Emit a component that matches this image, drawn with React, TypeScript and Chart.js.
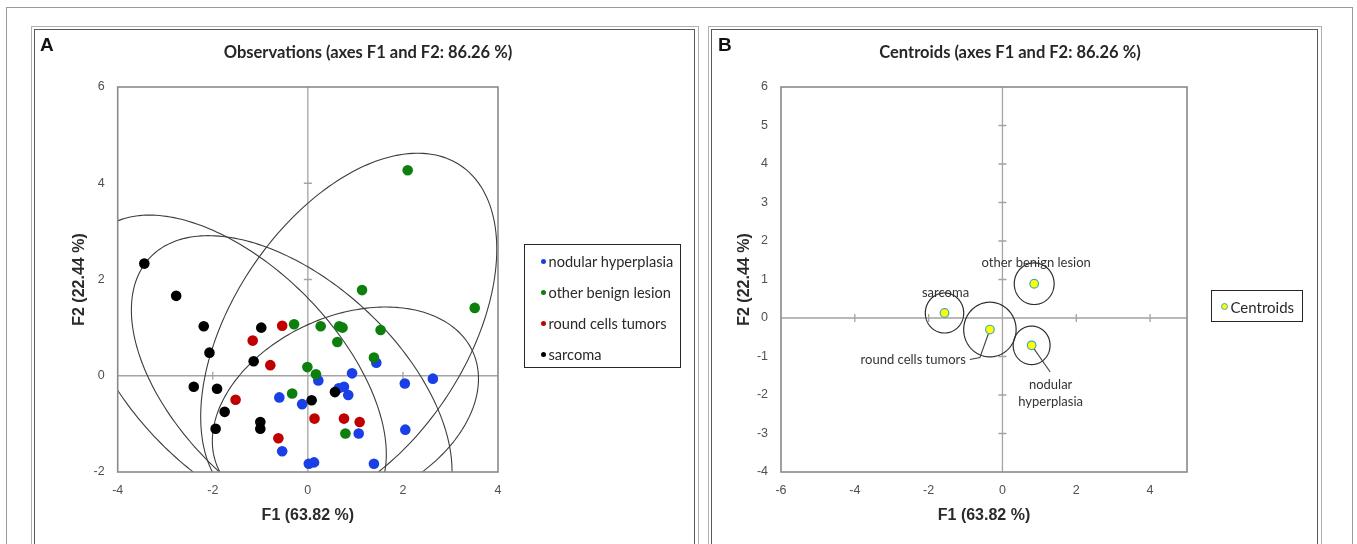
import React, { useEffect, useRef } from 'react';
import { Chart, registerables } from 'chart.js';

Chart.register(...registerables);

// ---------------- data ----------------
const GROUP_NAMES = ['nodular hyperplasia', 'other benign lesion', 'round cells tumors', 'sarcoma'];

const NODULAR_HYPERPLASIA: number[][] = [
  [1.44, 0.27], [0.93, 0.05], [0.22, -0.1], [2.04, -0.16], [2.63, -0.06], [0.65, -0.26],
  [0.76, -0.23], [0.85, -0.4], [-0.6, -0.45], [-0.12, -0.59], [2.05, -1.12], [1.07, -1.2],
  [-0.54, -1.57], [0.02, -1.83], [0.13, -1.8], [1.39, -1.83],
];
const OTHER_BENIGN_LESION: number[][] = [
  [2.1, 4.27], [1.14, 1.78], [3.51, 1.41], [-0.29, 1.07], [0.27, 1.03], [0.66, 1.03],
  [0.73, 1.0], [1.53, 0.95], [0.62, 0.7], [1.39, 0.38], [-0.01, 0.18], [0.17, 0.03],
  [-0.33, -0.37], [0.79, -1.2],
];
const ROUND_CELLS_TUMORS: number[][] = [
  [-0.54, 1.04], [-1.16, 0.73], [-0.79, 0.22], [-1.52, -0.5], [-0.62, -1.3], [0.14, -0.89],
  [0.76, -0.89], [1.09, -0.96],
];
const SARCOMA: number[][] = [
  [-3.44, 2.33], [-2.77, 1.66], [-2.19, 1.03], [-2.07, 0.48], [-0.98, 1.0], [-1.14, 0.3],
  [-2.4, -0.23], [-1.91, -0.27], [-1.75, -0.75], [-1.94, -1.1], [-1.0, -0.96], [-1.0, -1.1],
  [0.08, -0.51], [0.57, -0.34],
];
const GROUP_POINTS = [NODULAR_HYPERPLASIA, OTHER_BENIGN_LESION, ROUND_CELLS_TUMORS, SARCOMA];

const CENTROID_F1 = [0.79, 0.86, -0.34, -1.57];
const CENTROID_F2 = [-0.71, 0.89, -0.3, 0.13];

// confidence ellipses of the observations (panel A), in F1/F2 units
const ELLIPSE_SEMI_MAJOR = [2.94, 4.2, 4.06, 4.0];
const ELLIPSE_SEMI_MINOR = [1.94, 2.45, 2.28, 2.16];
const ELLIPSE_ANGLE_DEG = [24, 55.7, -42.3, -44.8];

// confidence circles of the centroids (panel B), in F1/F2 units
const CENTROID_CIRCLE_RADIUS = [0.5, 0.54, 0.71, 0.52];

const A_X_RANGE = [-4, 4];
const A_Y_RANGE = [-2, 6];
const B_X_RANGE = [-6, 5];
const B_Y_RANGE = [-4, 6];
const A_X_TICKS = [-4, -2, 0, 2, 4];
const A_Y_TICKS = [-2, 0, 2, 4, 6];
const B_X_TICKS = [-6, -4, -2, 0, 2, 4];
const B_Y_TICKS = [-4, -3, -2, -1, 0, 1, 2, 3, 4, 5, 6];

const TITLE_A = 'Observations (axes F1 and F2: 86.26 %)';
const TITLE_B = 'Centroids (axes F1 and F2: 86.26 %)';
const X_TITLE = 'F1 (63.82 %)';
const Y_TITLE = 'F2 (22.44 %)';
const CENTROID_SERIES = 'Centroids';

// ---------------- styles ----------------
const GROUP_COLORS = ['#1a3fe6', '#0d7f0d', '#c00000', '#000000'];
const TICK_FONT = { family: 'Liberation Sans, Arial, sans-serif', size: 12.5 };
const TICK_COLOR = '#505050';
const AXIS_TITLE_FONT = { family: 'Liberation Sans, Arial, sans-serif', size: 16, weight: 'bold' as const };
const TITLE_FONT = { family: 'Lato, sans-serif', size: 16.5, weight: 'bold' as const };
const LABEL_FONT = '13px Lato, sans-serif';

// label placement for panel B (pixel offsets from centroid marker)
const B_LABEL_LAYOUT = [
  { lines: ['nodular', 'hyperplasia'], dx: 19, dy: 39, lineGap: 17, align: 'center', leader: [[18.6, 26.7], [0, 0]] },
  { lines: ['other benign lesion'], dx: 2, dy: -21, lineGap: 0, align: 'center', leader: null },
  { lines: ['round cells tumors'], dx: -24, dy: 30, lineGap: 0, align: 'right', leader: [[-20, 30], [-10, 28], [0, 0]] },
  { lines: ['sarcoma'], dx: 1, dy: -20, lineGap: 0, align: 'center', leader: null },
];

function ellipsePath(ctx: CanvasRenderingContext2D, chart: any, cx: number, cy: number, a: number, b: number, angDeg: number) {
  const { x, y } = chart.scales;
  const th = (angDeg * Math.PI) / 180;
  const ct = Math.cos(th), st = Math.sin(th);
  ctx.beginPath();
  const N = 240;
  for (let i = 0; i <= N; i++) {
    const t = (i / N) * Math.PI * 2;
    const c = Math.cos(t), s = Math.sin(t);
    const vx = cx + a * c * ct - b * s * st;
    const vy = cy + a * c * st + b * s * ct;
    const px = x.getPixelForValue(vx), py = y.getPixelForValue(vy);
    if (i === 0) ctx.moveTo(px, py); else ctx.lineTo(px, py);
  }
  ctx.closePath();
}

function makeAxesPlugin(drawExtra: (chart: any) => void, drawTop: (chart: any) => void) {
  return {
    id: 'zeroAxesAndFrame',
    beforeDatasetsDraw(chart: any) {
      const { ctx, chartArea: ca, scales: { x, y } } = chart;
      const x0 = x.getPixelForValue(0), y0 = y.getPixelForValue(0);
      ctx.save();
      ctx.strokeStyle = '#a3a3a3';
      ctx.lineWidth = 1.3;
      ctx.beginPath();
      ctx.moveTo(x0, ca.top); ctx.lineTo(x0, ca.bottom);
      ctx.moveTo(ca.left, y0); ctx.lineTo(ca.right, y0);
      for (const t of y.ticks) {
        if (t.value === 0) continue;
        const py = y.getPixelForValue(t.value);
        if (py <= ca.top + 1 || py >= ca.bottom - 1) continue;
        ctx.moveTo(x0 - 4, py); ctx.lineTo(x0 + 4, py);
      }
      for (const t of x.ticks) {
        if (t.value === 0) continue;
        const px = x.getPixelForValue(t.value);
        if (px <= ca.left + 1 || px >= ca.right - 1) continue;
        ctx.moveTo(px, y0 - 4); ctx.lineTo(px, y0 + 4);
      }
      ctx.stroke();
      ctx.beginPath();
      ctx.rect(ca.left, ca.top, ca.width, ca.height);
      ctx.clip();
      drawExtra(chart);
      ctx.restore();
    },
    afterDatasetsDraw(chart: any) {
      const { ctx, chartArea: ca } = chart;
      ctx.save();
      drawTop(chart);
      ctx.strokeStyle = '#8a8a8a';
      ctx.lineWidth = 1.6;
      ctx.strokeRect(ca.left, ca.top, ca.width, ca.height);
      ctx.restore();
    },
  };
}

function baseScales(xr: number[], yr: number[], xt: number[], yt: number[], yWidth: number, yTitlePad: number, rightPad: number) {
  const common = {
    type: 'linear' as const,
    grid: { display: false, drawTicks: false },
    border: { display: false },
  };
  return {
    x: {
      ...common,
      position: 'bottom' as const,
      min: xr[0], max: xr[1],
      afterBuildTicks: (s: any) => { s.ticks = xt.map((v) => ({ value: v })); },
      afterFit: (s: any) => { s.height = 72; },
      ticks: { padding: 11, font: TICK_FONT, color: TICK_COLOR, maxRotation: 0 },
      title: { display: true, text: X_TITLE, font: AXIS_TITLE_FONT, color: '#2b2b2b', padding: { top: 0, bottom: 19 } },
    },
    y: {
      ...common,
      position: 'left' as const,
      min: yr[0], max: yr[1],
      afterBuildTicks: (s: any) => { s.ticks = yt.map((v) => ({ value: v })); },
      afterFit: (s: any) => { s.width = yWidth; },
      ticks: { padding: 13, font: TICK_FONT, color: TICK_COLOR },
      title: { display: true, text: Y_TITLE, font: AXIS_TITLE_FONT, color: '#2b2b2b', padding: { top: yTitlePad, bottom: 0 } },
    },
    spacer: {
      ...common,
      position: 'right' as const,
      display: true,
      ticks: { display: false },
      afterFit: (s: any) => { s.width = rightPad; },
    },
  };
}

export default function App() {
  const refA = useRef<HTMLCanvasElement>(null);
  const refB = useRef<HTMLCanvasElement>(null);

  useEffect(() => {
    const pluginA = makeAxesPlugin(
      (chart) => {
        const { ctx } = chart;
        ctx.strokeStyle = '#3d3d3d';
        ctx.lineWidth = 1.1;
        for (let i = 0; i < GROUP_NAMES.length; i++) {
          ellipsePath(ctx, chart, CENTROID_F1[i], CENTROID_F2[i], ELLIPSE_SEMI_MAJOR[i], ELLIPSE_SEMI_MINOR[i], ELLIPSE_ANGLE_DEG[i]);
          ctx.stroke();
        }
      },
      () => {}
    );

    const chartA = new Chart(refA.current!, {
      type: 'scatter',
      data: {
        datasets: GROUP_NAMES.map((name, i) => ({
          label: name,
          data: GROUP_POINTS[i].map((p) => ({ x: p[0], y: p[1] })),
          backgroundColor: GROUP_COLORS[i],
          borderColor: GROUP_COLORS[i],
          borderWidth: 0,
          pointRadius: 5.3,
          order: GROUP_NAMES.length - i,
          xAxisID: 'x',
          yAxisID: 'y',
        })),
      },
      options: {
        animation: false,
        responsive: true,
        maintainAspectRatio: false,
        layout: { padding: { left: 10, right: 0, top: 0, bottom: 0 } },
        plugins: {
          legend: { display: false },
          tooltip: { enabled: false },
          title: { display: true, text: TITLE_A, font: TITLE_FONT, color: '#262626', padding: { top: 15, bottom: 24.2 } },
        },
        scales: baseScales(A_X_RANGE, A_Y_RANGE, A_X_TICKS, A_Y_TICKS, 74.7, 27.4, 195) as any,
      },
      plugins: [pluginA],
    });

    const pluginB = makeAxesPlugin(
      (chart) => {
        const { ctx, scales: { x, y } } = chart;
        ctx.strokeStyle = '#2e2e2e';
        ctx.lineWidth = 1.2;
        for (let i = 0; i < GROUP_NAMES.length; i++) {
          const r = CENTROID_CIRCLE_RADIUS[i];
          ellipsePath(ctx, chart, CENTROID_F1[i], CENTROID_F2[i], r, r, 0);
          ctx.stroke();
        }
        ctx.strokeStyle = '#404040';
        ctx.lineWidth = 1.1;
        for (let i = 0; i < GROUP_NAMES.length; i++) {
          const lay = B_LABEL_LAYOUT[i];
          if (!lay.leader) continue;
          const cx = x.getPixelForValue(CENTROID_F1[i]);
          const cy = y.getPixelForValue(CENTROID_F2[i]);
          ctx.beginPath();
          lay.leader.forEach((p, k) => {
            if (k === 0) ctx.moveTo(cx + p[0], cy + p[1]); else ctx.lineTo(cx + p[0], cy + p[1]);
          });
          ctx.stroke();
        }
      },
      (chart) => {
        const { ctx, scales: { x, y } } = chart;
        ctx.font = LABEL_FONT;
        ctx.fillStyle = '#333333';
        ctx.textBaseline = 'middle';
        for (let i = 0; i < GROUP_NAMES.length; i++) {
          const lay = B_LABEL_LAYOUT[i];
          const cx = x.getPixelForValue(CENTROID_F1[i]);
          const cy = y.getPixelForValue(CENTROID_F2[i]);
          ctx.textAlign = lay.align as CanvasTextAlign;
          lay.lines.forEach((ln, k) => {
            ctx.fillText(ln, cx + lay.dx, cy + lay.dy + k * lay.lineGap);
          });
        }
      }
    );

    const chartB = new Chart(refB.current!, {
      type: 'scatter',
      data: {
        datasets: [
          {
            label: CENTROID_SERIES,
            data: CENTROID_F1.map((v, i) => ({ x: v, y: CENTROID_F2[i] })),
            backgroundColor: '#ffff00',
            borderColor: '#46a8b8',
            borderWidth: 1.2,
            pointRadius: 4.3,
            xAxisID: 'x',
            yAxisID: 'y',
          },
        ],
      },
      options: {
        animation: false,
        responsive: true,
        maintainAspectRatio: false,
        layout: { padding: { left: 0, right: 11, top: 0, bottom: 0 } },
        plugins: {
          legend: { display: false },
          tooltip: { enabled: false },
          title: { display: true, text: TITLE_B, font: TITLE_FONT, color: '#262626', padding: { top: 15, bottom: 24.2 } },
        },
        scales: baseScales(B_X_RANGE, B_Y_RANGE, B_X_TICKS, B_Y_TICKS, 70, 24.4, 122) as any,
      },
      plugins: [pluginB],
    });

    return () => {
      chartA.destroy();
      chartB.destroy();
    };
  }, []);

  const legendText: React.CSSProperties = { fontFamily: 'Lato, sans-serif', fontSize: 14.6, color: '#2a2a2a', whiteSpace: 'nowrap' };

  return (
    <div style={{ position: 'fixed', left: 0, top: 0, width: 1357, height: 544, background: '#fff', overflow: 'hidden' }}>
      {/* outer figure border */}
      <div style={{ position: 'absolute', left: 6, top: 7, width: 1345, height: 600, border: '1px solid #9a9a9a' }} />
      {/* panel frames */}
      <div style={{ position: 'absolute', left: 31, top: 26, width: 666, height: 600, border: '1px solid #b0b0b0' }} />
      <div style={{ position: 'absolute', left: 34, top: 29, width: 659, height: 600, border: '1.5px solid #5a5a5a' }} />
      <div style={{ position: 'absolute', left: 708, top: 26, width: 612, height: 600, border: '1px solid #b0b0b0' }} />
      <div style={{ position: 'absolute', left: 711, top: 29, width: 605, height: 600, border: '1.5px solid #5a5a5a' }} />

      <div style={{ position: 'absolute', left: 33, top: 28, width: 660, height: 516 }}>
        <canvas ref={refA} />
      </div>
      <div style={{ position: 'absolute', left: 711, top: 28, width: 609, height: 516 }}>
        <canvas ref={refB} />
      </div>

      <div style={{ position: 'absolute', left: 40, top: 34, fontFamily: 'Liberation Sans, Arial, sans-serif', fontWeight: 'bold', fontSize: 19, color: '#111' }}>A</div>
      <div style={{ position: 'absolute', left: 718, top: 34, fontFamily: 'Liberation Sans, Arial, sans-serif', fontWeight: 'bold', fontSize: 19, color: '#111' }}>B</div>

      {/* legend A */}
      <div style={{ position: 'absolute', left: 524, top: 244, width: 157, height: 124, border: '1.5px solid #262626', boxSizing: 'border-box' }}>
        {GROUP_NAMES.map((name, i) => (
          <div key={name} style={{ position: 'absolute', left: 0, top: 16.7 + i * 31 - 10, height: 20, display: 'flex', alignItems: 'center' }}>
            <span style={{ display: 'inline-block', width: 5.5, height: 5.5, borderRadius: '50%', background: GROUP_COLORS[i], marginLeft: 15.5 }} />
            <span style={{ ...legendText, marginLeft: 2.5 }}>{name}</span>
          </div>
        ))}
      </div>

      {/* legend B */}
      <div style={{ position: 'absolute', left: 1211, top: 290, width: 92, height: 32, border: '1.5px solid #262626', boxSizing: 'border-box' }}>
        <div style={{ position: 'absolute', left: 0, top: 5.5, height: 20, display: 'flex', alignItems: 'center' }}>
          <span style={{ display: 'inline-block', width: 5, height: 5, borderRadius: '50%', background: '#ffff00', border: '1px solid #46a8b8', marginLeft: 8.5 }} />
          <span style={{ ...legendText, fontSize: 15, marginLeft: 3 }}>{CENTROID_SERIES}</span>
        </div>
      </div>
    </div>
  );
}
